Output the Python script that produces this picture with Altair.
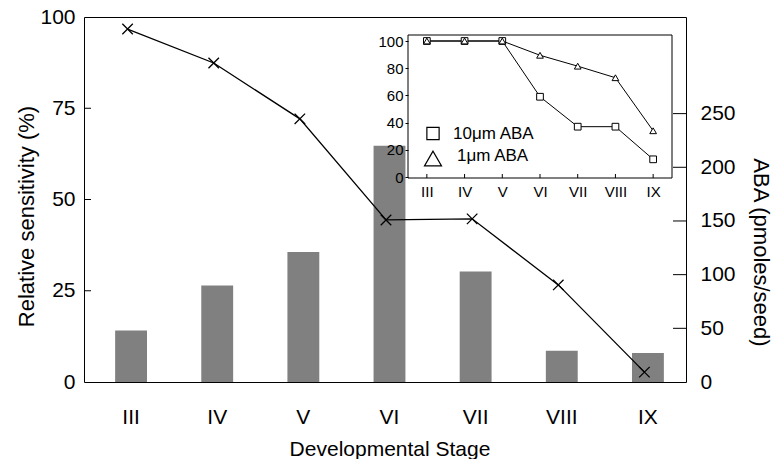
import altair as alt
import pandas as pd

# Developmental stages of the seed
stages = ["III", "IV", "V", "VI", "VII", "VIII", "IX"]
# Relative sensitivity to ABA (%), left axis
relative_sensitivity = [96.7, 87.4, 72.1, 44.4, 44.7, 26.6, 2.7]
# Endogenous ABA content (pmoles/seed), right axis
aba_content = [48, 90, 121, 220, 103, 29, 27]
# Inset: germination inhibition (%) at two ABA concentrations
inhibition_10um = [100, 100, 100, 59, 37, 37, 13]
inhibition_1um = [100, 100, 100, 89.5, 81.5, 73, 34]
inset_series = ["10\u03bcm ABA", "1\u03bcm ABA"]

left_ticks = [25, 50, 75]
right_ticks = [50, 100, 150, 200, 250]
left_labels = [0, 25, 50, 75, 100]
right_labels = [0, 50, 100, 150, 200, 250]
inset_y_labels = [0, 20, 40, 60, 80, 100]

W, H = 602, 365
FONT = "Liberation Sans"
TICK_FS, TITLE_FS = 21, 22
INSET_FS, KEY_FS = 15, 17

main_df = pd.DataFrame({"stage": stages, "sens": relative_sensitivity, "aba": aba_content})
inset_df = pd.DataFrame({
    "stage": stages * 2,
    "pct": inhibition_10um + inhibition_1um,
    "series": [inset_series[0]] * len(stages) + [inset_series[1]] * len(stages),
})
key_df = pd.DataFrame({"series": inset_series})

# Scales: main chart (bars and the sensitivity curve sit on slightly shifted bands)
x_bars = alt.Scale(domain=stages, range=[4, 607], paddingInner=0.63, paddingOuter=0.315)
x_curve = alt.Scale(domain=stages, range=[0.5, 603.5], paddingInner=0.63, paddingOuter=0.315)
y_sens = alt.Scale(domain=[0, 100], nice=False)
y_aba = alt.Scale(domain=[0, 340], nice=False)
# Scales: inset panel in the upper right of the plot area
IN_L, IN_R, IN_T, IN_B = 324, 588, 18, 161
x_in = alt.Scale(domain=stages, range=[IN_L, IN_R], paddingInner=0.63, paddingOuter=0.315)
y_in = alt.Scale(domain=[0, 100], range=[IN_B - 1, IN_T + 6], nice=False)
shape_scale = alt.Scale(domain=inset_series, range=["square", "triangle-up"])

bars = alt.Chart(main_df).mark_bar(color="#808080").encode(
    x=alt.X("stage:N", sort=stages, scale=x_bars,
            axis=alt.Axis(orient="bottom", title="Developmental Stage", ticks=False, domain=False,
                          labelAngle=0, labelFontSize=TICK_FS, labelPadding=24,
                          titleFontSize=21, titlePadding=11)),
    y=alt.Y("aba:Q", scale=y_aba,
            axis=alt.Axis(orient="right", title="ABA (pmoles/seed)", values=right_labels,
                          ticks=False, domain=False, labelPadding=14, labelFontSize=TICK_FS,
                          labelFlush=False, labelOverlap=False,
                          titleFontSize=TITLE_FS, titlePadding=13, titleY=235)),
)

sens_line = alt.Chart(main_df).mark_line(
    color="black", strokeWidth=1.3,
    point=alt.OverlayMarkDef(shape="M-1,-1L1,1M-1,1L1,-1", size=110, filled=False,
                             stroke="black", strokeWidth=1.3, opacity=1),
).encode(
    x=alt.X("stage:N", sort=stages, scale=x_curve, axis=None),
    y=alt.Y("sens:Q", scale=y_sens,
            axis=alt.Axis(orient="left", title="Relative sensitivity (%)", values=left_labels,
                          ticks=False, domain=False, labelPadding=9, labelFontSize=TICK_FS,
                          labelFlush=False, labelOverlap=False,
                          titleFontSize=TITLE_FS, titlePadding=1, titleY=199)),
)

# Inward tick marks on the two main value axes
left_tick_marks = alt.Chart(pd.DataFrame({"v": left_ticks})).mark_rule(color="black").encode(
    y=alt.Y("v:Q", scale=y_sens, axis=None),
    x=alt.value(0), x2=alt.value(7),
)
right_tick_marks = alt.Chart(pd.DataFrame({"v": right_ticks})).mark_rule(color="black").encode(
    y=alt.Y("v:Q", scale=y_aba, axis=None),
    x=alt.value(W - 13), x2=alt.value(W),
)

# Inset frame
inset_frame = alt.Chart(pd.DataFrame({"k": [0]})).mark_rect(
    fill="white", stroke="black", strokeWidth=1
).encode(x=alt.value(IN_L), x2=alt.value(IN_R), y=alt.value(IN_T), y2=alt.value(IN_B))

inset_lines = alt.Chart(inset_df).mark_line(color="black", strokeWidth=1).encode(
    x=alt.X("stage:N", sort=stages, scale=x_in,
            axis=alt.Axis(orient="bottom", offset=-(H - IN_B), title=None, ticks=False,
                          domain=False, labelAngle=0, labelFontSize=INSET_FS, labelPadding=6,
                          zindex=1)),
    y=alt.Y("pct:Q", scale=y_in,
            axis=alt.Axis(orient="left", offset=-IN_L, values=inset_y_labels, title=None,
                          tickSize=3, tickColor="black", domain=False, labelPadding=2,
                          labelFontSize=INSET_FS, labelFlush=False, labelOverlap=False,
                          zindex=1)),
    detail="series:N",
)

inset_xticks = alt.Chart(pd.DataFrame({"stage": stages})).mark_rule(color="black").encode(
    x=alt.X("stage:N", sort=stages, scale=x_in, axis=None),
    y=alt.value(IN_B - 4), y2=alt.value(IN_B),
)

inset_points = alt.Chart(inset_df).mark_point(
    filled=False, fill="white", fillOpacity=1, stroke="black", strokeWidth=1, size=45, opacity=1
).encode(
    x=alt.X("stage:N", sort=stages, scale=x_in, axis=None),
    y=alt.Y("pct:Q", scale=y_in, axis=None),
    shape=alt.Shape("series:N", scale=shape_scale, legend=None),
)

# Key inside the inset: symbols and labels on small point scales
key_symbols = alt.Chart(key_df).mark_point(
    filled=False, fill="white", fillOpacity=1, stroke="black", strokeWidth=1.2, opacity=1
).encode(
    x=alt.value(349),
    y=alt.Y("series:N", scale=alt.Scale(type="point", domain=inset_series,
                                        range=[116.5, 141.5], padding=0), axis=None),
    shape=alt.Shape("series:N", scale=shape_scale, legend=None),
    size=alt.Size("series:N", scale=alt.Scale(domain=inset_series, range=[150, 290]),
                  legend=None),
)
key_labels = alt.Chart(key_df).mark_text(
    align="left", baseline="middle", font=FONT, fontSize=KEY_FS, color="black"
).encode(
    x=alt.X("series:N", scale=alt.Scale(type="point", domain=inset_series,
                                        range=[369, 373], padding=0), axis=None),
    y=alt.Y("series:N", scale=alt.Scale(type="point", domain=inset_series,
                                        range=[116.5, 139], padding=0), axis=None),
    text="series:N",
)

chart = alt.layer(
    bars, sens_line, left_tick_marks, right_tick_marks,
    inset_frame, inset_lines, inset_xticks, inset_points, key_symbols, key_labels,
).resolve_scale(
    x="independent", y="independent"
).properties(
    width=W, height=H,
    padding={"left": 84, "top": 17, "right": 88, "bottom": 77},
    autosize=alt.AutoSizeParams(type="none"),
).configure_view(
    stroke="black", strokeWidth=1
).configure_axis(
    labelFont=FONT, titleFont=FONT, labelColor="black", titleColor="black",
    titleFontWeight="normal", grid=False,
)

chart.save("out.html", embed_options={"renderer": "svg", "actions": False})
